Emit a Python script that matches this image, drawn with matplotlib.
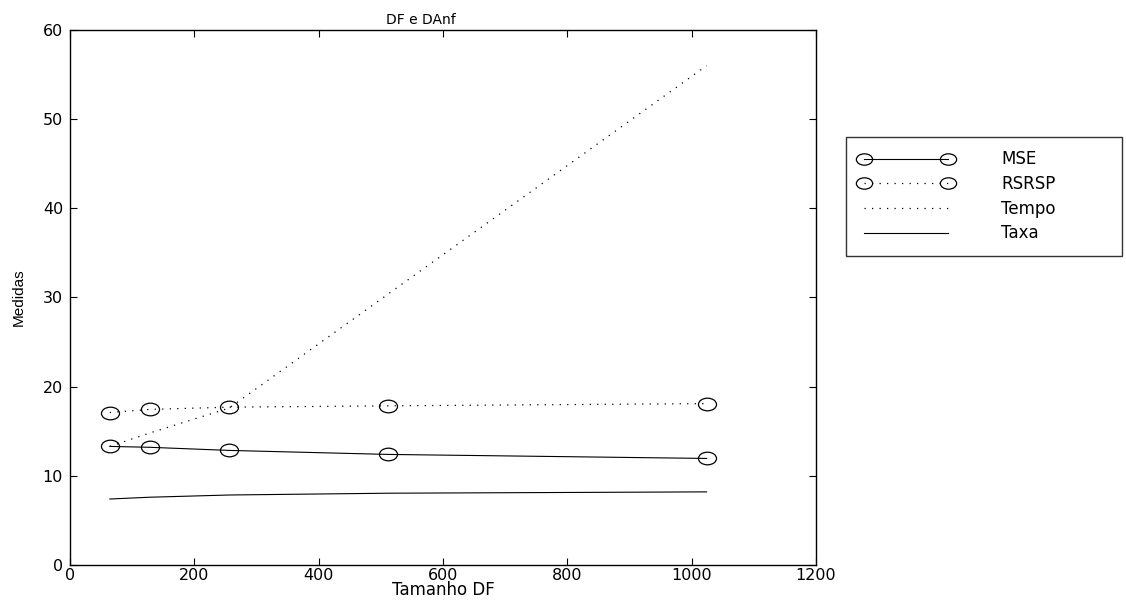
import numpy as np
import matplotlib
matplotlib.use("Agg")
import matplotlib.pyplot as plt
from matplotlib.path import Path
from matplotlib.transforms import Affine2D

# the reference is horizontally stretched, so a wide face fits it better
plt.rcParams["font.family"] = ["DejaVu Sans"]

# Data
tamanho = [64, 128, 256, 512, 1024]
mse = [13.3, 13.2, 12.85, 12.4, 11.95]
rsrsp = [17.1, 17.45, 17.7, 17.85, 18.1]
tempo = [13.3, 14.8, 17.6, 30.4, 56.0]
taxa = [7.4, 7.6, 7.85, 8.05, 8.2]

# MATLAB circle, squashed like in the picture
oval = Path.unit_circle().transformed(Affine2D().scale(1.0, 0.7))

fig = plt.figure(figsize=(11.26, 6.07), dpi=100)
ax = fig.add_axes([0.0622, 0.0692, 0.6625, 0.8814])

dotted = (0, (1, 5))
ax.plot(tamanho, mse, color="black", lw=0.8, marker=oval, ms=13,
        mfc="none", mec="black", mew=0.9, label="MSE")
ax.plot(tamanho, rsrsp, color="black", lw=0.9, ls=dotted, marker=oval, ms=13,
        mfc="none", mec="black", mew=0.9, label="RSRSP")
ax.plot(tamanho, tempo, color="black", lw=0.9, ls=dotted, label="Tempo")
ax.plot(tamanho, taxa, color="black", lw=0.8, label="Taxa")

ax.set_xlim(0, 1200)
ax.set_ylim(0, 60)
ax.set_xticks(np.arange(0, 1201, 200))
ax.set_yticks(np.arange(0, 61, 10))
ax.tick_params(direction="in", length=5, width=0.8, top=True, right=True,
               labelsize=11.5)
ax.tick_params(axis="x", pad=2)
ax.tick_params(axis="y", pad=5)
for s in ax.spines.values():
    s.set_linewidth(1.0)

ax.set_title("DF e DAnf", fontsize=10, pad=4, x=(421 - 70) / 746)
ax.set_xlabel("Tamanho DF", fontsize=12, labelpad=-1)
ax.set_ylabel("Medidas", fontsize=11, labelpad=12,
              family=["Liberation Sans", "DejaVu Sans"])

leg = fig.legend(loc="upper left",
                 bbox_to_anchor=(846 / 1126, 1 - 137 / 607, 276 / 1126, 0),
                 mode="expand", numpoints=2, markerscale=0.9,
                 fontsize=12, frameon=True, fancybox=False, handlelength=5.6,
                 handletextpad=2.9, borderpad=0.8, labelspacing=0.4,
                 borderaxespad=0)
leg.get_frame().set_edgecolor("black")
leg.get_frame().set_linewidth(1.0)

fig.savefig("out.png", dpi=100)
